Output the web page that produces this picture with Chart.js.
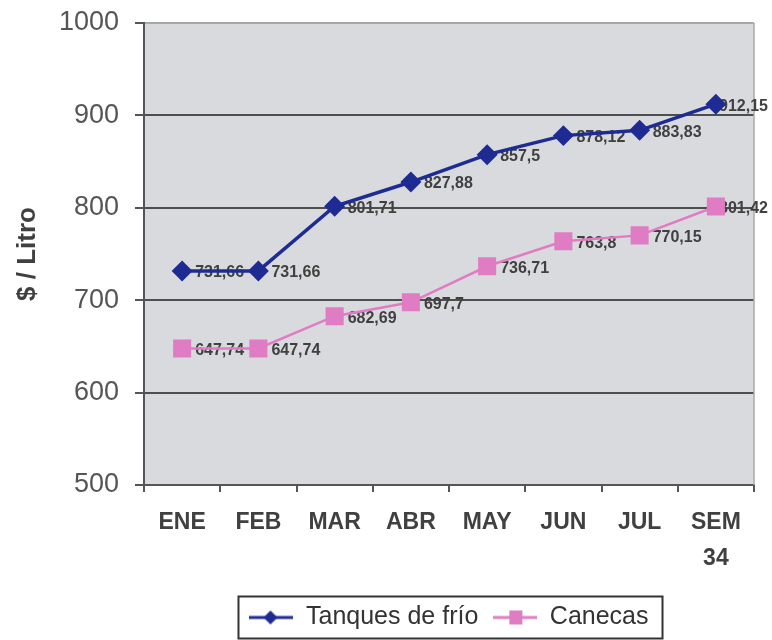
<!DOCTYPE html>
<html><head><meta charset="utf-8">
<script src="https://cdn.jsdelivr.net/npm/chart.js@4.4.1/dist/chart.umd.min.js"></script>
<style>html,body{margin:0;padding:0;background:#fff}#w{width:772px;height:640px}</style>
</head><body><div id="w"><canvas id="c"></canvas></div>
<script>
const categories = ['ENE','FEB','MAR','ABR','MAY','JUN','JUL',['SEM','34']];
const tanques = [731.66, 731.66, 801.71, 827.88, 857.5, 878.12, 883.83, 912.15];
const canecas = [647.74, 647.74, 682.69, 697.7, 736.71, 763.8, 770.15, 801.42];
const seriesNames = ['Tanques de frío', 'Canecas'];
const yTitle = '$ / Litro';

const BLUE = '#1e2b93', PINK = '#e07cc3';
const FONT = "'Liberation Sans', Arial, sans-serif";

function legendIcon(color, style, lw) {
  const c = document.createElement('canvas');
  c.width = 44; c.height = 20;
  const x = c.getContext('2d');
  x.strokeStyle = color; x.lineWidth = lw;
  x.beginPath(); x.moveTo(0, 10); x.lineTo(44, 10); x.stroke();
  x.fillStyle = color;
  if (style === 'diamond') {
    x.beginPath(); x.moveTo(21, 3); x.lineTo(28, 10); x.lineTo(21, 17); x.lineTo(14, 10); x.closePath(); x.fill();
  } else {
    x.fillRect(16, 3, 13, 14);
  }
  return c;
}
const icons = [legendIcon(BLUE, 'diamond', 3), legendIcon(PINK, 'square', 3)];

const plotBg = {
  id: 'plotBg',
  beforeDraw(chart) {
    const {ctx, chartArea: a} = chart;
    ctx.save(); ctx.fillStyle = '#d9dadd';
    ctx.fillRect(a.left, a.top, a.right - a.left, a.bottom - a.top);
    ctx.restore();
  },
  beforeDatasetsDraw(chart) {
    const {ctx, chartArea: a} = chart;
    ctx.save(); ctx.strokeStyle = '#a8a8a8'; ctx.lineWidth = 1.5;
    ctx.beginPath(); ctx.moveTo(a.right, a.top); ctx.lineTo(a.right, a.bottom); ctx.stroke();
    ctx.restore();
  }
};
const dataLabels = {
  id: 'dataLabels',
  beforeDatasetsDraw(chart) {
    const ctx = chart.ctx;
    ctx.save();
    ctx.font = 'bold 16px ' + FONT;
    ctx.fillStyle = '#404040';
    ctx.textAlign = 'left'; ctx.textBaseline = 'middle';
    chart.data.datasets.forEach((ds, i) => {
      chart.getDatasetMeta(i).data.forEach((pt, j) => {
        const t = String(ds.data[j]).replace('.', ',');
        const w = ctx.measureText(t).width;
        const x = Math.min(pt.x + 13, chart.width - w - 4);
        ctx.fillText(t, x, pt.y + 2);
      });
    });
    ctx.restore();
  }
};
const legendBox = {
  id: 'legendBox',
  afterDraw(chart) {
    const lg = chart.legend;
    if (!lg || !lg.legendHitBoxes.length) return;
    const hb = lg.legendHitBoxes;
    const l = Math.min(...hb.map(h => h.left)) - 11;
    const r = Math.max(...hb.map(h => h.left + h.width)) + 14;
    const cy = hb[0].top + hb[0].height / 2;
    const ctx = chart.ctx;
    ctx.save(); ctx.strokeStyle = '#333'; ctx.lineWidth = 2;
    ctx.strokeRect(l, cy - 21, r - l, 42);
    ctx.restore();
  }
};

new Chart(document.getElementById('c'), {
  type: 'line',
  data: {
    labels: categories,
    datasets: [
      { label: seriesNames[0], data: tanques, borderColor: BLUE, backgroundColor: BLUE,
        borderWidth: 3.5, pointStyle: 'rectRot', pointRadius: 8, pointHoverRadius: 8, tension: 0 },
      { label: seriesNames[1], data: canecas, borderColor: PINK, backgroundColor: PINK,
        borderWidth: 2.5, pointStyle: 'rect', pointRadius: 11, pointHoverRadius: 11, tension: 0 }
    ]
  },
  options: {
    responsive: true, maintainAspectRatio: false, animation: false,
    layout: { padding: { top: 23, right: 18, left: 0, bottom: 0 } },
    plugins: {
      tooltip: { enabled: false },
      legend: {
        position: 'bottom', fullSize: false, align: 'center',
        labels: {
          usePointStyle: true, pointStyleWidth: 44, padding: 15,
          color: '#333', font: { family: FONT, size: 25 },
          generateLabels(chart) {
            return chart.data.datasets.map((ds, i) => ({
              text: ds.label, pointStyle: icons[i], fillStyle: ds.borderColor,
              strokeStyle: ds.borderColor, lineWidth: 0, hidden: false, datasetIndex: i, fontColor: '#333'
            }));
          }
        }
      }
    },
    scales: {
      x: {
        offset: true,
        grid: { offset: true, drawOnChartArea: false, drawTicks: true, tickLength: 7, color: '#555', lineWidth: 2 },
        border: { color: '#555', width: 2 },
        ticks: { color: '#404040', padding: 13, maxRotation: 0, font: { family: FONT, size: 23, weight: 'bold', lineHeight: 1.55 } },
        afterFit(s) { s.height = 105; s.paddingLeft = 0; s.paddingRight = 0; }
      },
      y: {
        min: 500, max: 1000,
        ticks: { stepSize: 100, color: '#555', padding: 16, font: { family: FONT, size: 27 }, callback: v => String(v) },
        grid: { color: c => c.tick && c.tick.value === 1000 ? '#a8a8a8' : '#4e4e4e', lineWidth: 2, tickLength: 9, tickColor: '#555' },
        border: { color: '#555', width: 2 },
        title: { display: true, text: yTitle, color: '#404040', padding: { top: 12, bottom: 0 }, font: { family: FONT, size: 26, weight: 'bold' } },
        afterFit(s) { s.width = 144; s.paddingTop = 0; s.paddingBottom = 0; }
      }
    }
  },
  plugins: [plotBg, dataLabels, legendBox]
});
</script>
</body></html>
